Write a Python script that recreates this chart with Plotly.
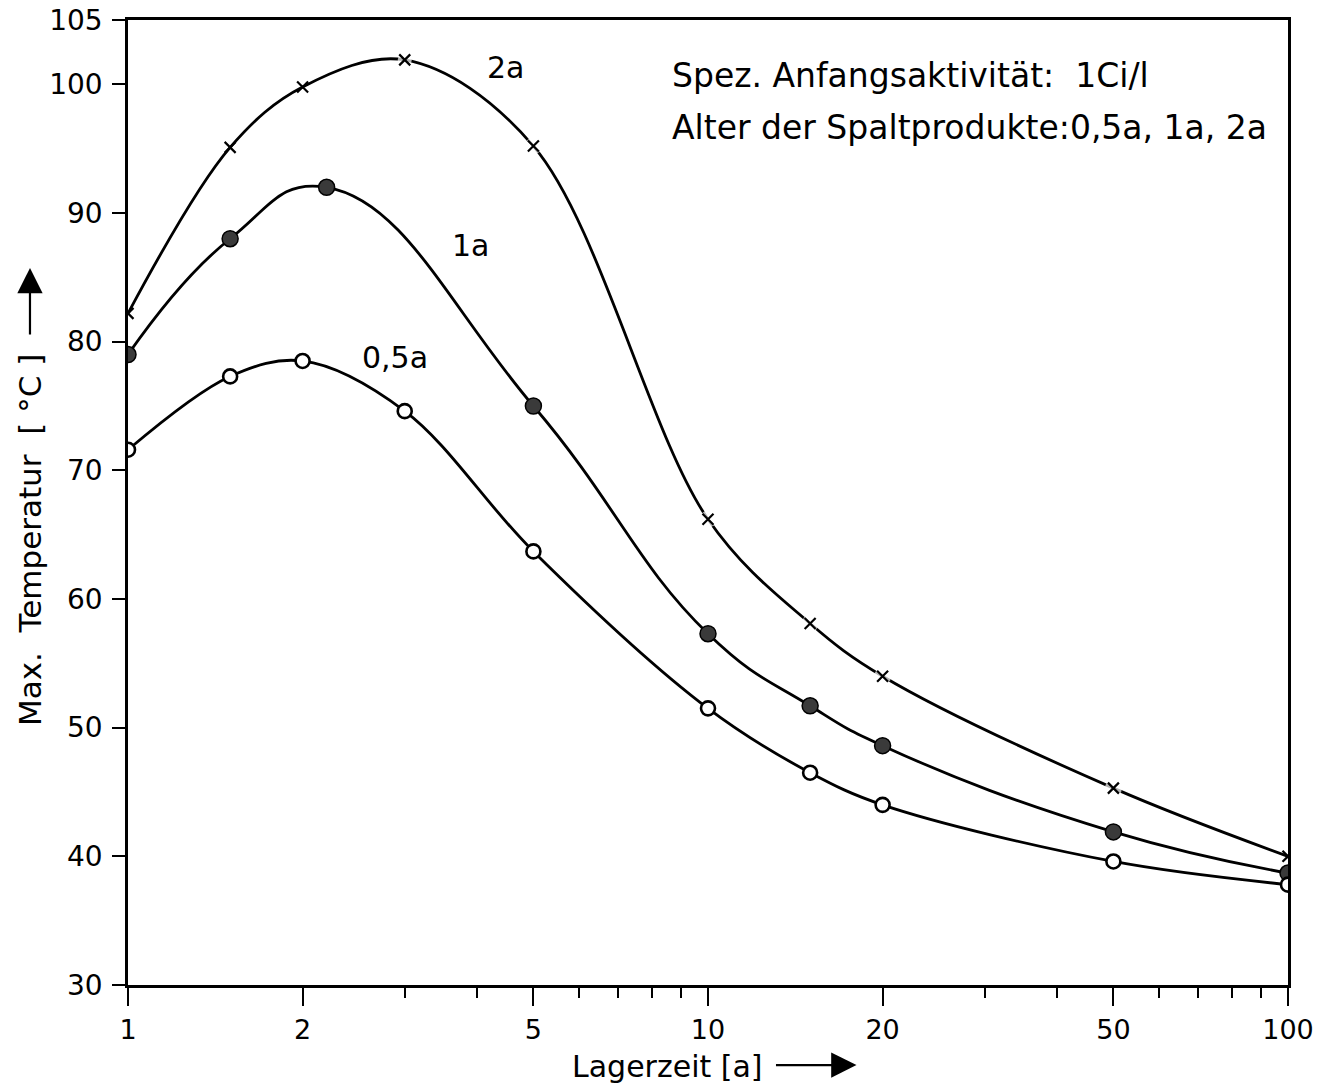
import math
import plotly.graph_objects as go

# Lagerzeit [a] (measured points)
x_vals = [1, 1.5, 2, 3, 5, 10, 15, 20, 50, 100]
x_1a = [1, 1.5, 2.2, 5, 10, 15, 20, 50, 100]

# Max. Temperatur [°C] at the measured points
t_2a = [82.2, 95.1, 99.8, 101.9, 95.2, 66.2, 58.1, 54.0, 45.3, 40.0]
t_1a = [79.0, 88.0, 92.0, 75.0, 57.3, 51.7, 48.6, 41.9, 38.7]
t_05a = [71.6, 77.3, 78.5, 74.6, 63.7, 51.5, 46.5, 44.0, 39.6, 37.8]

y_ticks = [30, 40, 50, 60, 70, 80, 90, 100, 105]
x_ticks = [1, 2, 5, 10, 20, 50, 100]
x_minor = [3, 4, 6, 7, 8, 9, 30, 40, 60, 70, 80, 90]

FONT = "DejaVu Sans"
LW = 2.8

fig = go.Figure()

for (mx, my, sm) in [(x_vals, t_2a, 1.0), (x_1a, t_1a, 1.3), (x_vals, t_05a, 1.0)]:
    fig.add_trace(go.Scatter(x=mx, y=my, mode="lines",
                             line=dict(color="black", width=LW, shape="spline", smoothing=sm),
                             showlegend=False, hoverinfo="skip"))

# small white gaps around the x markers of the 2a curve
fig.add_trace(go.Scatter(x=x_vals, y=t_2a, mode="markers",
                         marker=dict(symbol="circle", size=[0, 0, 0, 14, 17, 17, 17, 17, 17, 0], color="white",
                                     line=dict(width=0)), showlegend=False, hoverinfo="skip"))
fig.add_trace(go.Scatter(x=x_vals, y=t_2a, mode="markers",
                         marker=dict(symbol="x-thin", size=11, line=dict(color="black", width=2.2)), showlegend=False))
fig.add_trace(go.Scatter(x=x_1a, y=t_1a, mode="markers",
                         marker=dict(symbol="circle", size=16, color="#3a3a3a", line=dict(color="black", width=1.5)),
                         showlegend=False))
fig.add_trace(go.Scatter(x=x_vals, y=t_05a, mode="markers",
                         marker=dict(symbol="circle", size=14, color="white", line=dict(color="black", width=2.6)),
                         showlegend=False))

# curve labels
for txt, xx, yy in [("2a", 4.47, 101.3), ("1a", 3.89, 87.5), ("0,5a", 2.89, 78.8)]:
    fig.add_annotation(x=math.log10(xx), y=yy, text=txt, showarrow=False,
                       font=dict(family=FONT, size=30, color="black"))

# info text
fig.add_annotation(xref="paper", yref="paper", x=0.467, y=0.943, xanchor="left", yanchor="middle",
                   text="Spez. Anfangsaktivität:  1Ci/l", showarrow=False,
                   font=dict(family=FONT, size=33, color="black"))
fig.add_annotation(xref="paper", yref="paper", x=0.467, y=0.889, xanchor="left", yanchor="middle",
                   text="Alter der Spaltprodukte:0,5a, 1a, 2a", showarrow=False,
                   font=dict(family=FONT, size=33, color="black"))

# axis titles with arrows
fig.add_annotation(xref="paper", yref="paper", x=0.549, y=-0.084, xanchor="right", yanchor="middle",
                   text="Lagerzeit [a]", showarrow=False, font=dict(family=FONT, size=30, color="black"))
fig.add_annotation(xref="paper", yref="paper", x=0.628, y=-0.083, ax=-82, ay=0,
                   text="", showarrow=True, arrowhead=2, arrowsize=2.3, arrowwidth=2.2, arrowcolor="black")
fig.add_annotation(xref="paper", yref="paper", x=-0.0845, y=0.461, textangle=-90, xanchor="center", yanchor="middle",
                   text="Max.  Temperatur  [ °C ]", showarrow=False, font=dict(family=FONT, size=31, color="black"))
fig.add_annotation(xref="paper", yref="paper", x=-0.0845, y=0.743, ax=0, ay=68,
                   text="", showarrow=True, arrowhead=2, arrowsize=2.3, arrowwidth=2.2, arrowcolor="black")

fig.update_xaxes(type="log", range=[0, 2], tickvals=x_ticks, ticktext=[str(v) for v in x_ticks],
                 ticks="outside", ticklen=18, tickwidth=2, tickcolor="black",
                 minor=dict(tickvals=x_minor, ticks="outside", ticklen=10, tickwidth=2, tickcolor="black"),
                 showline=True, linecolor="black", linewidth=2.5, mirror=True, showgrid=False, zeroline=False,
                 tickfont=dict(family=FONT, size=27, color="black"), ticklabelstandoff=1, automargin=False)
fig.update_yaxes(range=[30, 105], tickvals=y_ticks, ticktext=[str(v) for v in y_ticks],
                 ticks="outside", ticklen=13, tickwidth=2, tickcolor="black",
                 showline=True, linecolor="black", linewidth=2.5, mirror=True, showgrid=False, zeroline=False,
                 tickfont=dict(family=FONT, size=28, color="black"), ticklabelstandoff=4, automargin=False)

fig.update_layout(width=1332, height=1083, margin=dict(l=128, r=44, t=20, b=98, autoexpand=False),
                  plot_bgcolor="white", paper_bgcolor="white")

fig.write_html("out.html")
